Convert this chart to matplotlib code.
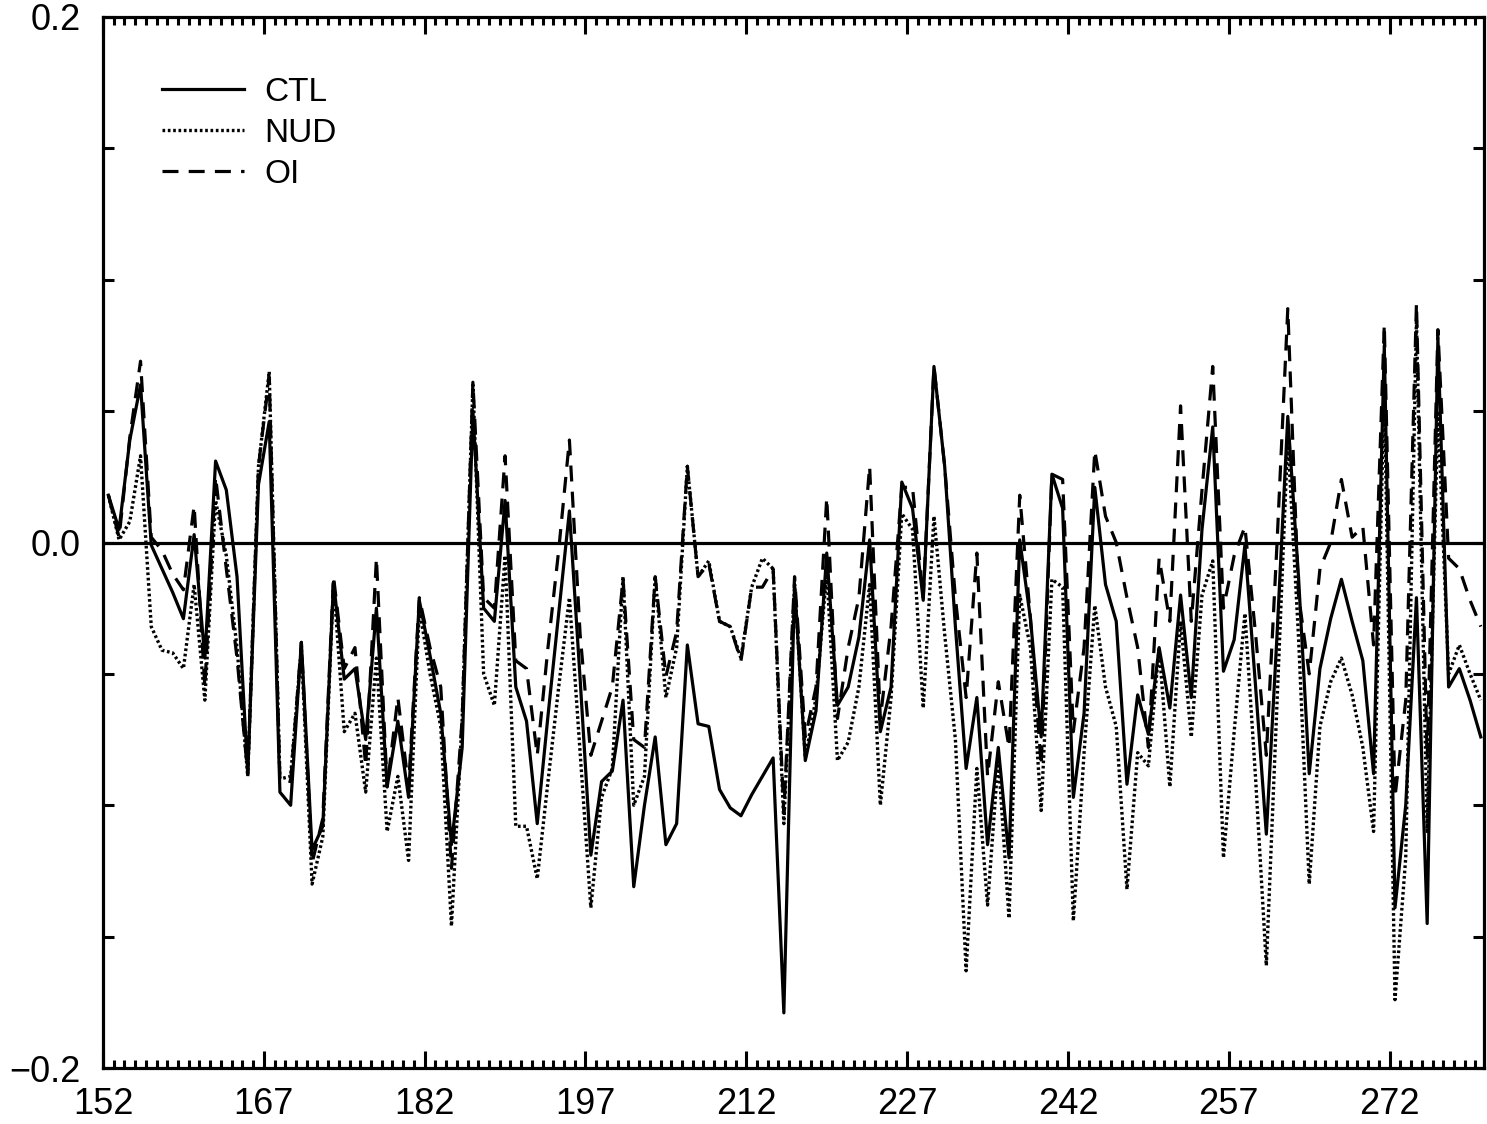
import matplotlib
matplotlib.use("Agg")
import matplotlib.pyplot as plt
import numpy as np
from matplotlib.ticker import MultipleLocator, FixedLocator

plt.rcParams['font.family'] = ['Liberation Sans', 'DejaVu Sans']

days = list(range(152, 281))

ctl = [0.018, 0.005, 0.039, 0.060, -0.001, -0.010, -0.019, -0.029, 0.003, -0.044,
       0.031, 0.020, -0.013, -0.088, 0.022, 0.046, -0.095, -0.100, -0.038, -0.117,
       -0.108, -0.015, -0.052, -0.048, -0.075, -0.025, -0.093, -0.068, -0.097, -0.022,
       -0.043, -0.065, -0.115, -0.078, 0.050, -0.025, -0.030, 0.016, -0.055, -0.068,
       -0.107, -0.066, -0.027, 0.012, -0.052, -0.119, -0.091, -0.087, -0.060, -0.131,
       -0.100, -0.074, -0.115, -0.107, -0.039, -0.069, -0.070, -0.094, -0.101, -0.104,
       -0.096, -0.089, -0.082, -0.179, -0.016, -0.083, -0.064, -0.004, -0.062, -0.055,
       -0.036, 0.001, -0.072, -0.055, 0.023, 0.013, -0.022, 0.067, 0.029, -0.032,
       -0.086, -0.059, -0.115, -0.078, -0.120, 0.001, -0.029, -0.074, 0.026, 0.013,
       -0.097, -0.065, 0.021, -0.016, -0.030, -0.092, -0.058, -0.073, -0.040, -0.063,
       -0.020, -0.059, 0.005, 0.044, -0.049, -0.037, -0.001, -0.055, -0.111, -0.035,
       0.048, -0.013, -0.088, -0.048, -0.029, -0.014, -0.030, -0.045, -0.088, 0.075,
       -0.139, -0.100, -0.021, -0.145, 0.078, -0.055, -0.048, -0.060, -0.074]

nud = [0.018, 0.001, 0.008, 0.033, -0.032, -0.041, -0.042, -0.048, -0.016, -0.060,
       0.016, -0.005, -0.040, -0.089, 0.029, 0.065, -0.090, -0.089, -0.040, -0.130,
       -0.112, -0.015, -0.072, -0.065, -0.095, -0.044, -0.110, -0.089, -0.121, -0.025,
       -0.050, -0.070, -0.146, -0.067, 0.060, -0.050, -0.062, -0.005, -0.108, -0.108,
       -0.128, -0.091, -0.055, -0.021, -0.080, -0.139, -0.097, -0.086, -0.013, -0.100,
       -0.089, -0.013, -0.059, -0.040, 0.029, -0.013, -0.007, -0.030, -0.032, -0.044,
       -0.017, -0.006, -0.010, -0.107, -0.016, -0.082, -0.059, -0.011, -0.083, -0.076,
       -0.055, -0.016, -0.100, -0.059, 0.011, 0.005, -0.063, 0.010, -0.035, -0.075,
       -0.163, -0.086, -0.138, -0.082, -0.143, -0.020, -0.040, -0.102, -0.014, -0.017,
       -0.144, -0.080, -0.024, -0.055, -0.070, -0.132, -0.080, -0.085, -0.040, -0.093,
       -0.030, -0.074, -0.020, -0.007, -0.120, -0.072, -0.027, -0.090, -0.161, -0.060,
       0.040, -0.036, -0.130, -0.070, -0.053, -0.044, -0.058, -0.078, -0.110, 0.060,
       -0.174, -0.120, 0.085, -0.110, 0.050, -0.050, -0.039, -0.050, -0.060]

oi = [0.018, 0.002, 0.040, 0.069, 0.002, -0.003, -0.012, -0.018, 0.014, -0.055,
      0.025, -0.010, -0.044, -0.088, 0.029, 0.063, -0.090, -0.091, -0.038, -0.122,
      -0.105, -0.013, -0.048, -0.040, -0.085, -0.006, -0.093, -0.059, -0.093, -0.021,
      -0.040, -0.055, -0.124, -0.067, 0.061, -0.021, -0.025, 0.033, -0.045, -0.048,
      -0.081, -0.040, -0.003, 0.039, -0.035, -0.081, -0.068, -0.055, -0.014, -0.075,
      -0.078, -0.013, -0.051, -0.034, 0.029, -0.013, -0.008, -0.030, -0.032, -0.045,
      -0.017, -0.017, -0.010, -0.103, -0.013, -0.074, -0.055, 0.017, -0.067, -0.040,
      -0.021, 0.029, -0.067, -0.032, 0.021, 0.021, -0.021, 0.067, 0.029, -0.021,
      -0.059, -0.004, -0.089, -0.053, -0.078, 0.018, -0.029, -0.085, 0.026, 0.024,
      -0.072, -0.040, 0.035, 0.010, 0.000, -0.021, -0.040, -0.078, -0.006, -0.030,
      0.052, -0.030, 0.020, 0.067, -0.025, -0.005, 0.006, -0.035, -0.081, 0.000,
      0.089, -0.020, -0.050, -0.010, 0.000, 0.024, 0.002, 0.006, -0.039, 0.083,
      -0.097, -0.060, 0.091, -0.082, 0.081, -0.006, -0.010, -0.022, -0.032]

xvals = np.array(days) + 0.5

fig = plt.figure(figsize=(14.87, 11.24), dpi=100)
ax = fig.add_axes([103/1487, 1 - 1068/1124, (1484 - 103)/1487, (1068 - 17)/1124])

ax.axhline(0.0, color='black', lw=2.3, zorder=1)
ax.plot(xvals, ctl, color='black', lw=2.3, ls='-', label='CTL')
ax.plot(xvals, nud, color='black', lw=2.4, ls=(0, (0.8, 0.8)), label='NUD')
ax.plot(xvals, oi, color='black', lw=2.3, ls=(0, (5, 3.2)), label='OI')

ax.set_xlim(152, 280.8)
ax.set_ylim(-0.2, 0.2)

ax.xaxis.set_major_locator(FixedLocator([152, 167, 182, 197, 212, 227, 242, 257, 272]))
ax.xaxis.set_minor_locator(MultipleLocator(1))
ax.set_xticklabels(['152', '167', '182', '197', '212', '227', '242', '257', '272'])

ax.yaxis.set_major_locator(FixedLocator([-0.2, -0.15, -0.1, -0.05, 0.0, 0.05, 0.1, 0.15, 0.2]))
ax.set_yticklabels(['\u22120.2', '', '', '', '0.0', '', '', '', '0.2'])

ax.tick_params(axis='x', which='major', direction='in', length=12, width=2.2,
               top=True, bottom=True, labelsize=26, pad=14)
ax.tick_params(axis='x', which='minor', direction='in', length=6, width=2.2,
               top=True, bottom=True)
ax.tick_params(axis='y', which='major', direction='in', length=8, width=2.2,
               left=True, right=True, labelsize=26, pad=16)

for s in ax.spines.values():
    s.set_linewidth(2.3)

leg = ax.legend(loc='upper left', bbox_to_anchor=(0.043, 0.943), frameon=False,
                fontsize=24, handlelength=2.45, handletextpad=0.6,
                labelspacing=0.3, borderpad=0, borderaxespad=0)

fig.savefig('out.png', dpi=100)
